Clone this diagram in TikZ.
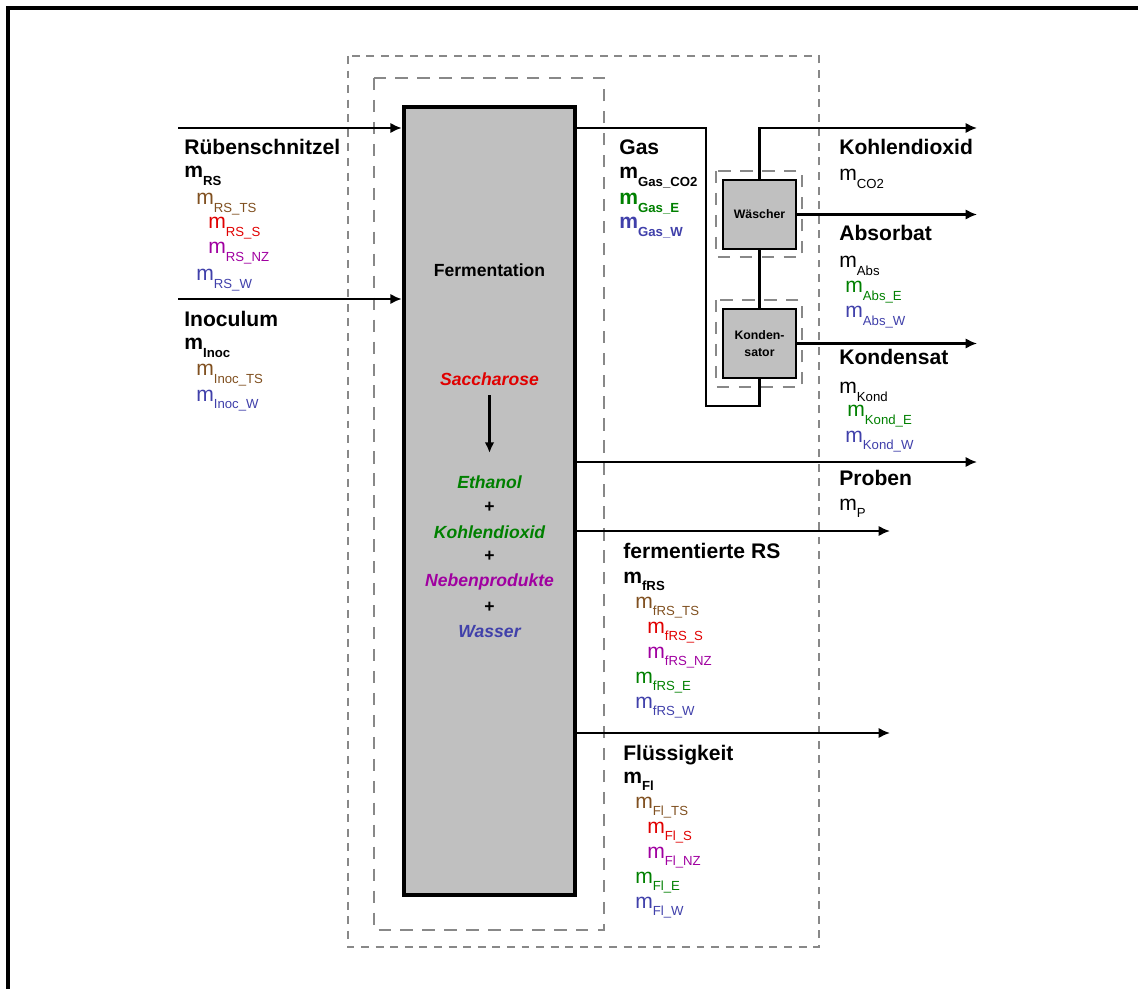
\documentclass[tikz,border=0pt]{standalone}
\usepackage{fontspec}
\setmainfont{Liberation Sans}
\usetikzlibrary{arrows.meta}
\definecolor{boxgray}{RGB}{192,192,192}
\definecolor{dashgray}{RGB}{136,136,136}
\definecolor{tsbrown}{RGB}{128,80,32}
\definecolor{sred}{RGB}{224,0,0}
\definecolor{nzpurple}{RGB}{160,0,160}
\definecolor{egreen}{RGB}{0,128,0}
\definecolor{wblue}{RGB}{64,64,170}
\newcommand{\mflow}[1]{m\raisebox{-4pt}{\fontsize{7.5}{8}\selectfont #1}}
\tikzset{
  head/.style={anchor=base west,inner sep=0pt,font=\bfseries\fontsize{12}{14}\selectfont},
  mass/.style={anchor=base west,inner sep=0pt,font=\fontsize{12}{14}\selectfont},
  react/.style={anchor=base,inner sep=0pt,font=\bfseries\itshape\fontsize{10}{12}\selectfont},
  plus/.style={anchor=base,inner sep=0pt,font=\bfseries\fontsize{10}{12}\selectfont},
  unitbox/.style={draw,line width=1.4pt,fill=boxgray,minimum width=1.46cm,minimum height=1.38cm,
    align=center,inner sep=1pt,font=\bfseries\fontsize{7}{9.5}\selectfont},
  bound/.style={draw=dashgray,line width=1.2pt,dash pattern=on 7pt off 5.5pt},
  outerbound/.style={draw=dashgray,line width=1.2pt,dash pattern=on 4.5pt off 3.8pt},
  flow/.style={line width=1.4pt,-{Latex[length=6.5pt,width=6pt]}},
  pipe/.style={line width=1.4pt},
}
\begin{document}
\begin{tikzpicture}[x=0.02cm,y=-0.02cm]
\useasboundingbox (0,0) rectangle (1138,989);
\draw[line width=1.8pt] (8,989) -- (8,8) -- (1138,8);

\draw[outerbound] (348,56) rectangle (819,947);
\draw[bound] (374,78) rectangle (604,930);
\draw[bound] (716,171) rectangle (802,257);
\draw[bound] (716,300) rectangle (802,387);

\node[draw,line width=2.6pt,fill=boxgray,minimum width=3.42cm,minimum height=15.76cm,inner sep=0pt] (ferm) at (489.5,501) {};
\node[unitbox] (wasch) at (759.5,214.5) {Wäscher};
\node[unitbox] (kond) at (759.5,343.5) {Konden-\\sator};

\node[plus] (fermlbl) at (489.5,277) {Fermentation};
\node[react,sred] (sacch) at (489.5,385) {Saccharose};
\node[react,egreen] (eth) at (489.5,488) {Ethanol};
\node[plus] (plusa) at (489.5,512) {+};
\node[react,egreen] (kohl) at (489.5,538) {Kohlendioxid};
\node[plus] (plusb) at (489.5,561) {+};
\node[react,nzpurple] (neben) at (489.5,586) {Nebenprodukte};
\node[plus] (plusc) at (489.5,612) {+};
\node[react,wblue] (wasser) at (489.5,637) {Wasser};
\draw[line width=1.2pt,-{Latex[length=6pt,width=5.5pt]},shorten <=5.5pt,shorten >=12.5pt] (sacch) -- (eth);

\coordinate (rsin) at (178,128);
\coordinate (inocin) at (178,299);
\draw[flow] (rsin) -- (rsin -| ferm.west);
\draw[flow] (inocin) -- (inocin -| ferm.west);

\coordinate (gastop) at (706,128);
\coordinate (gasbend) at (706,406);
\coordinate (co2end) at (977,128);
\draw[pipe] (gastop -| ferm.east) -- (gastop) -- (gasbend) -| (kond.south);
\draw[pipe] (kond.north) -- (wasch.south);
\draw[flow] (wasch.north) |- (co2end);
\draw[flow] (wasch.east) -- (wasch.east -| co2end);
\draw[flow] (kond.east) -- (kond.east -| co2end);

\coordinate (probend) at (977,462);
\coordinate (frsend) at (890,531);
\coordinate (flend) at (890,733);
\draw[flow] (probend -| ferm.east) -- (probend);
\draw[flow] (frsend -| ferm.east) -- (frsend);
\draw[flow] (flend -| ferm.east) -- (flend);

\node[head] (rs) at (184,155) {Rübenschnitzel};
\node[head] (mrs) at (184,178) {\mflow{RS}};
\node[mass,tsbrown] (mrsts) at (196,205) {\mflow{RS\_TS}};
\node[mass,sred] (mrss) at (208,229) {\mflow{RS\_S}};
\node[mass,nzpurple] (mrsnz) at (208,254) {\mflow{RS\_NZ}};
\node[mass,wblue] (mrsw) at (196,281) {\mflow{RS\_W}};
\node[head] (inoc) at (184,327) {Inoculum};
\node[head] (minoc) at (184,350) {\mflow{Inoc}};
\node[mass,tsbrown] (minocts) at (196,376) {\mflow{Inoc\_TS}};
\node[mass,wblue] (minocw) at (196,401) {\mflow{Inoc\_W}};

\node[head] (gas) at (619,155) {Gas};
\node[head] (mgasco) at (619,179) {\mflow{Gas\_CO2}};
\node[head,egreen] (mgase) at (619,205) {\mflow{Gas\_E}};
\node[head,wblue] (mgasw) at (619,229) {\mflow{Gas\_W}};

\node[head] (co2) at (839,155) {Kohlendioxid};
\node[mass] (mco2) at (839,181) {\mflow{CO2}};
\node[head] (abs) at (839,241) {Absorbat};
\node[mass] (mabs) at (839,268) {\mflow{Abs}};
\node[mass,egreen] (mabse) at (845,293) {\mflow{Abs\_E}};
\node[mass,wblue] (mabsw) at (845,318) {\mflow{Abs\_W}};
\node[head] (kondlbl) at (839,365) {Kondensat};
\node[mass] (mkond) at (839,394) {\mflow{Kond}};
\node[mass,egreen] (mkonde) at (847,417) {\mflow{Kond\_E}};
\node[mass,wblue] (mkondw) at (845,442) {\mflow{Kond\_W}};
\node[head] (prob) at (839,485) {Proben};
\node[mass] (mprob) at (839,510) {\mflow{P}};

\node[head] (frs) at (623,558) {fermentierte RS};
\node[head] (mfrs) at (623,583) {\mflow{fRS}};
\node[mass,tsbrown] (mfrsts) at (635,608) {\mflow{fRS\_TS}};
\node[mass,sred] (mfrss) at (647,633) {\mflow{fRS\_S}};
\node[mass,nzpurple] (mfrsnz) at (647,658) {\mflow{fRS\_NZ}};
\node[mass,egreen] (mfrse) at (635,683) {\mflow{fRS\_E}};
\node[mass,wblue] (mfrsw) at (635,708) {\mflow{fRS\_W}};

\node[head] (fl) at (623,760) {Flüssigkeit};
\node[head] (mfl) at (623,783) {\mflow{Fl}};
\node[mass,tsbrown] (mflts) at (635,808) {\mflow{Fl\_TS}};
\node[mass,sred] (mfls) at (647,833) {\mflow{Fl\_S}};
\node[mass,nzpurple] (mflnz) at (647,858) {\mflow{Fl\_NZ}};
\node[mass,egreen] (mfle) at (635,883) {\mflow{Fl\_E}};
\node[mass,wblue] (mflw) at (635,908) {\mflow{Fl\_W}};
\end{tikzpicture}
\end{document}
